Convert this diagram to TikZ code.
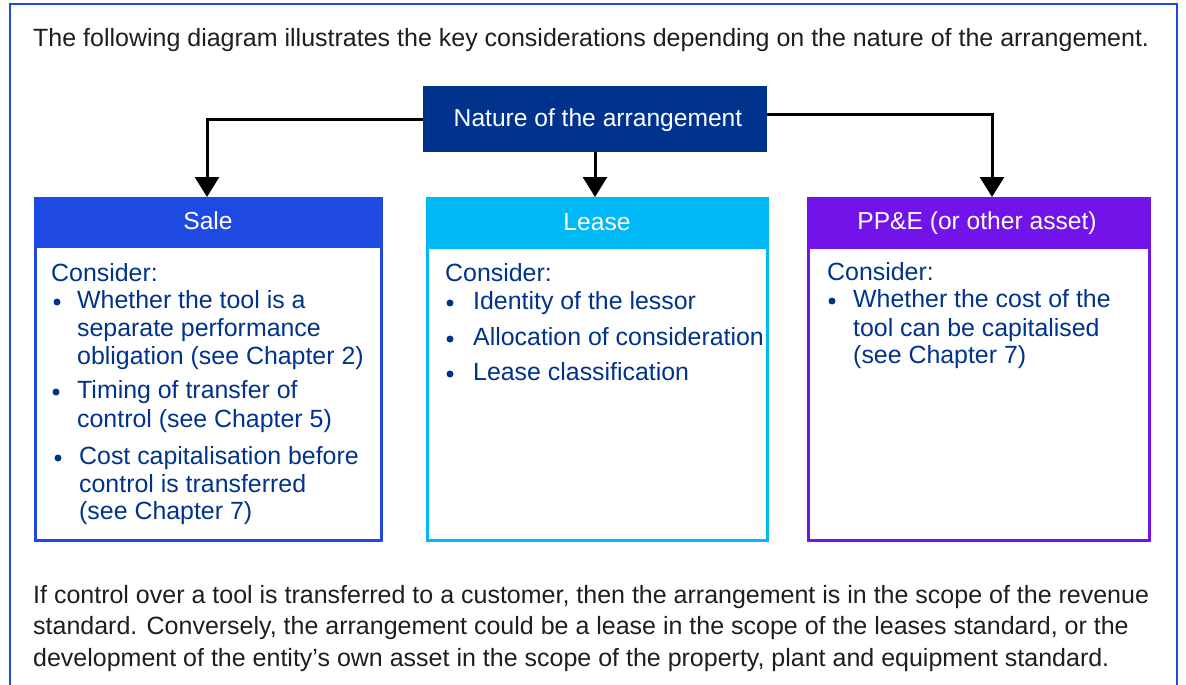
\documentclass[tikz,border=0pt]{standalone}
\usepackage{fontspec}
\setmainfont{Liberation Sans}
\usetikzlibrary{arrows.meta}
\definecolor{kdark}{HTML}{00338D}
\definecolor{kcobalt}{HTML}{1E49E2}
\definecolor{klight}{HTML}{00B8F5}
\definecolor{kpurple}{HTML}{7213EA}
\definecolor{ktext}{HTML}{1E1E1E}
\tikzset{
  plain/.style={anchor=base west, inner sep=0pt, text=ktext, font=\fontsize{25}{28}\selectfont},
  body/.style={anchor=base west, inner sep=0pt, text=kdark, font=\fontsize{24.9}{28}\selectfont},
  head/.style={anchor=base, inner sep=0pt, text=white, font=\fontsize{24.6}{28}\selectfont},
  card/.style={draw=#1, line width=3pt, fill=white, minimum height=342pt, inner sep=0pt},
  conn/.style={draw=black, line width=3pt, -{Triangle[width=24pt,length=20pt]}},
  dot/.style={circle, fill=kdark, minimum size=7pt, inner sep=0pt}
}
\begin{document}
\begin{tikzpicture}[x=1pt,y=-1pt]
\useasboundingbox (0,0) rectangle (1186,685);
% outer frame
\draw[kcobalt, line width=2pt] (10,685) -- (10,4) -- (1177,4) -- (1177,685);

\node[plain] (intro) at (33,47) {The following diagram illustrates the key considerations depending on the nature of the arrangement.};

% top node
\node[fill=kdark, minimum width=344pt, minimum height=66pt, inner sep=0pt] (nature) at (595,119) {};
\node[head] (naturet) at (598,126) {Nature of the arrangement};

% cards
\node[card=kcobalt, minimum width=346pt] (sale) at (208.5,369.5) {};
\node[card=klight, minimum width=340pt] (lease) at (597.5,369.5) {};
\node[card=kpurple, minimum width=341pt] (ppe) at (979,369.5) {};
\fill[kcobalt] (sale.north west) rectangle ([yshift=-51pt]sale.north east);
\fill[klight] (lease.north west) rectangle ([yshift=-52pt]lease.north east);
\fill[kpurple] (ppe.north west) rectangle ([yshift=-52pt]ppe.north east);
\node[head] (saleh) at (208,229) {Sale};
\node[head] (leaseh) at (597,230) {Lease};
\node[head] (ppeh) at (977,229) {PP\&E (or other asset)};

% connectors
\draw[conn] (nature.west) -| ([xshift=-1.5pt]sale.north);
\draw[conn] (nature.south) -- (nature.south |- lease.north);
\draw[conn] ([yshift=4.5pt]nature.east) -| ([xshift=13pt]ppe.north);

% Sale body
\node[body] (s0) at (51,281) {Consider:};
\node[dot] (sb1) at (57,302) {};
\node[body] (s1) at (77,308) {Whether the tool is a};
\node[body] (s2) at (77,336) {separate performance};
\node[body] (s3) at (77,364) {obligation (see Chapter 2)};
\node[dot] (sb2) at (56,392) {};
\node[body] (s4) at (77,398) {Timing of transfer of};
\node[body] (s5) at (77,427) {control (see Chapter 5)};
\node[dot] (sb3) at (58,458) {};
\node[body] (s6) at (79,464) {Cost capitalisation before};
\node[body] (s7) at (79,492) {control is transferred};
\node[body] (s8) at (79,519) {(see Chapter 7)};

% Lease body
\node[body] (l0) at (445,281) {Consider:};
\node[dot] (lb1) at (450,303) {};
\node[body] (l1) at (473,309) {Identity of the lessor};
\node[dot] (lb2) at (450,339) {};
\node[body] (l2) at (473,345) {Allocation of consideration};
\node[dot] (lb3) at (450,374) {};
\node[body] (l3) at (473,380) {Lease classification};

% PP&E body
\node[body] (p0) at (827,280) {Consider:};
\node[dot] (pb1) at (832,301) {};
\node[body] (p1) at (853,307) {Whether the cost of the};
\node[body] (p2) at (853,336) {tool can be capitalised};
\node[body] (p3) at (853,363) {(see Chapter 7)};

% bottom text
\node[plain] (b1) at (33,603) {If control over a tool is transferred to a customer, then the arrangement is in the scope of the revenue};
\node[plain] (b2) at (33,634) {standard. Conversely, the arrangement could be a lease in the scope of the leases standard, or the};
\node[plain] (b3) at (33,666) {development of the entity’s own asset in the scope of the property, plant and equipment standard.};
\end{tikzpicture}
\end{document}
